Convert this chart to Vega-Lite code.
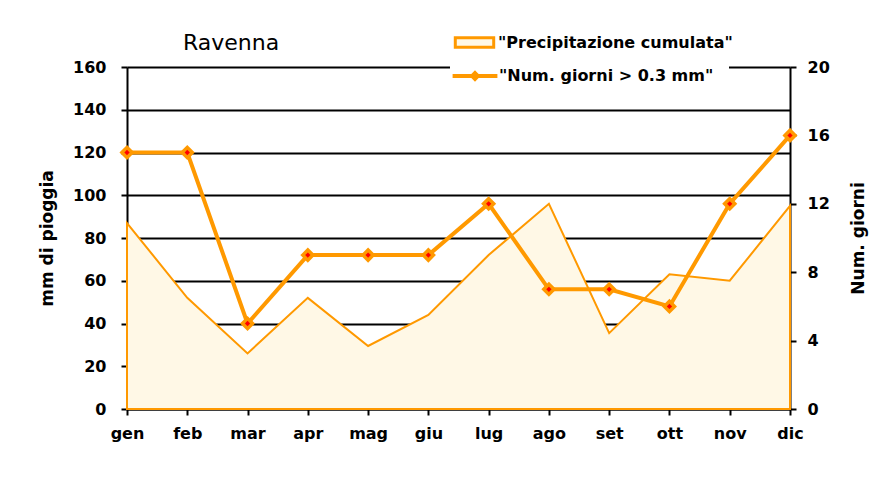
{
  "$schema": "https://vega.github.io/schema/vega-lite/v6.json",
  "width": 663,
  "height": 342,
  "autosize": {"type": "none"},
  "padding": {"left": 127, "top": 67, "right": 88, "bottom": 68},
  "background": "white",
  "data": {
    "values": [
      {"month": "gen", "prec": 87, "days": 15},
      {"month": "feb", "prec": 52, "days": 15},
      {"month": "mar", "prec": 26, "days": 5},
      {"month": "apr", "prec": 52, "days": 9},
      {"month": "mag", "prec": 29.5, "days": 9},
      {"month": "giu", "prec": 44, "days": 9},
      {"month": "lug", "prec": 72, "days": 12},
      {"month": "ago", "prec": 96, "days": 7},
      {"month": "set", "prec": 35.5, "days": 7},
      {"month": "ott", "prec": 63, "days": 6},
      {"month": "nov", "prec": 60, "days": 12},
      {"month": "dic", "prec": 95, "days": 16}
    ]
  },
  "title": {
    "text": "Ravenna",
    "anchor": "start",
    "frame": "group",
    "dx": 56,
    "dy": 41,
    "offset": 14,
    "font": "DejaVu Sans",
    "fontSize": 22,
    "fontWeight": "normal",
    "color": "black"
  },
  "encoding": {
    "x": {
      "field": "month",
      "type": "ordinal",
      "sort": null,
      "scale": {"type": "point", "padding": 0},
      "axis": {"title": null, "labelAngle": 0, "labelPadding": 10, "grid": false}
    }
  },
  "layer": [
    {
      "mark": {"type": "area", "stroke": "#FF9900", "strokeWidth": 2, "opacity": 1},
      "encoding": {
        "y": {
          "field": "prec",
          "type": "quantitative",
          "scale": {"domain": [0, 160], "nice": false},
          "axis": {
            "title": "mm di pioggia",
            "values": [0, 20, 40, 60, 80, 100, 120, 140, 160],
            "grid": true,
            "gridColor": "black",
            "gridWidth": 2,
            "labelPadding": 15,
            "titlePadding": 16
          }
        },
        "fill": {
          "datum": "\"Precipitazione cumulata\"",
          "scale": {"range": ["#FFF8E6"]},
          "legend": {
            "title": null,
            "orient": "none",
            "legendX": 333,
            "legendY": -39,
            "padding": 5,
            "symbolType": "M-2.4,-0.6H2.4V0.6H-2.4Z",
            "symbolSize": 256,
            "symbolStrokeColor": "#FF9900",
            "symbolStrokeWidth": 3,
            "symbolOpacity": 1,
            "labelFont": "DejaVu Sans",
            "labelFontSize": 16,
            "labelFontWeight": "bold",
            "labelColor": "black",
            "labelOffset": 14,
            "labelLimit": 400
          }
        }
      }
    },
    {
      "encoding": {
        "y": {
          "field": "days",
          "type": "quantitative",
          "scale": {"domain": [0, 20], "nice": false},
          "axis": {
            "orient": "right",
            "title": "Num. giorni",
            "titleAngle": 270,
            "values": [0, 4, 8, 12, 16, 20],
            "grid": false,
            "labelPadding": 11,
            "titlePadding": 38
          }
        }
      },
      "layer": [
        {
          "mark": {"type": "line", "strokeWidth": 4},
          "encoding": {
            "stroke": {
              "datum": "\"Num. giorni > 0.3 mm\"",
              "scale": {"range": ["#FF9900"]},
              "legend": {
                "title": null,
                "orient": "none",
                "legendX": 323,
                "legendY": -16,
                "padding": 15,
                "fillColor": "white",
                "symbolType": "M-2.8,0H2.8M0,-0.35L0.35,0L0,0.35L-0.35,0ZM0,-0.2L0.2,0L0,0.2L-0.2,0Z",
                "symbolSize": 256,
                "symbolStrokeWidth": 4,
                "symbolOpacity": 1,
                "labelFont": "DejaVu Sans",
                "labelFontSize": 16,
                "labelFontWeight": "bold",
                "labelColor": "black",
                "labelOffset": 14,
                "labelLimit": 400
              }
            }
          }
        },
        {
          "mark": {"type": "point", "shape": "diamond", "filled": true, "size": 150, "color": "#FF9900", "stroke": "#FF9900", "strokeWidth": 2, "opacity": 1},
          "encoding": {}
        },
        {
          "mark": {"type": "point", "shape": "diamond", "filled": true, "size": 28, "color": "#FF0000", "opacity": 1},
          "encoding": {}
        }
      ]
    }
  ],
  "resolve": {"scale": {"y": "independent"}},
  "config": {
    "view": {"stroke": null},
    "axis": {
      "domainColor": "black",
      "domainWidth": 2,
      "tickColor": "black",
      "tickWidth": 2,
      "tickSize": 6,
      "labelColor": "black",
      "labelFont": "DejaVu Sans",
      "labelFontSize": 16,
      "labelFontWeight": "bold",
      "titleColor": "black",
      "titleFont": "DejaVu Sans",
      "titleFontSize": 17,
      "titleFontWeight": "bold"
    }
  }
}
